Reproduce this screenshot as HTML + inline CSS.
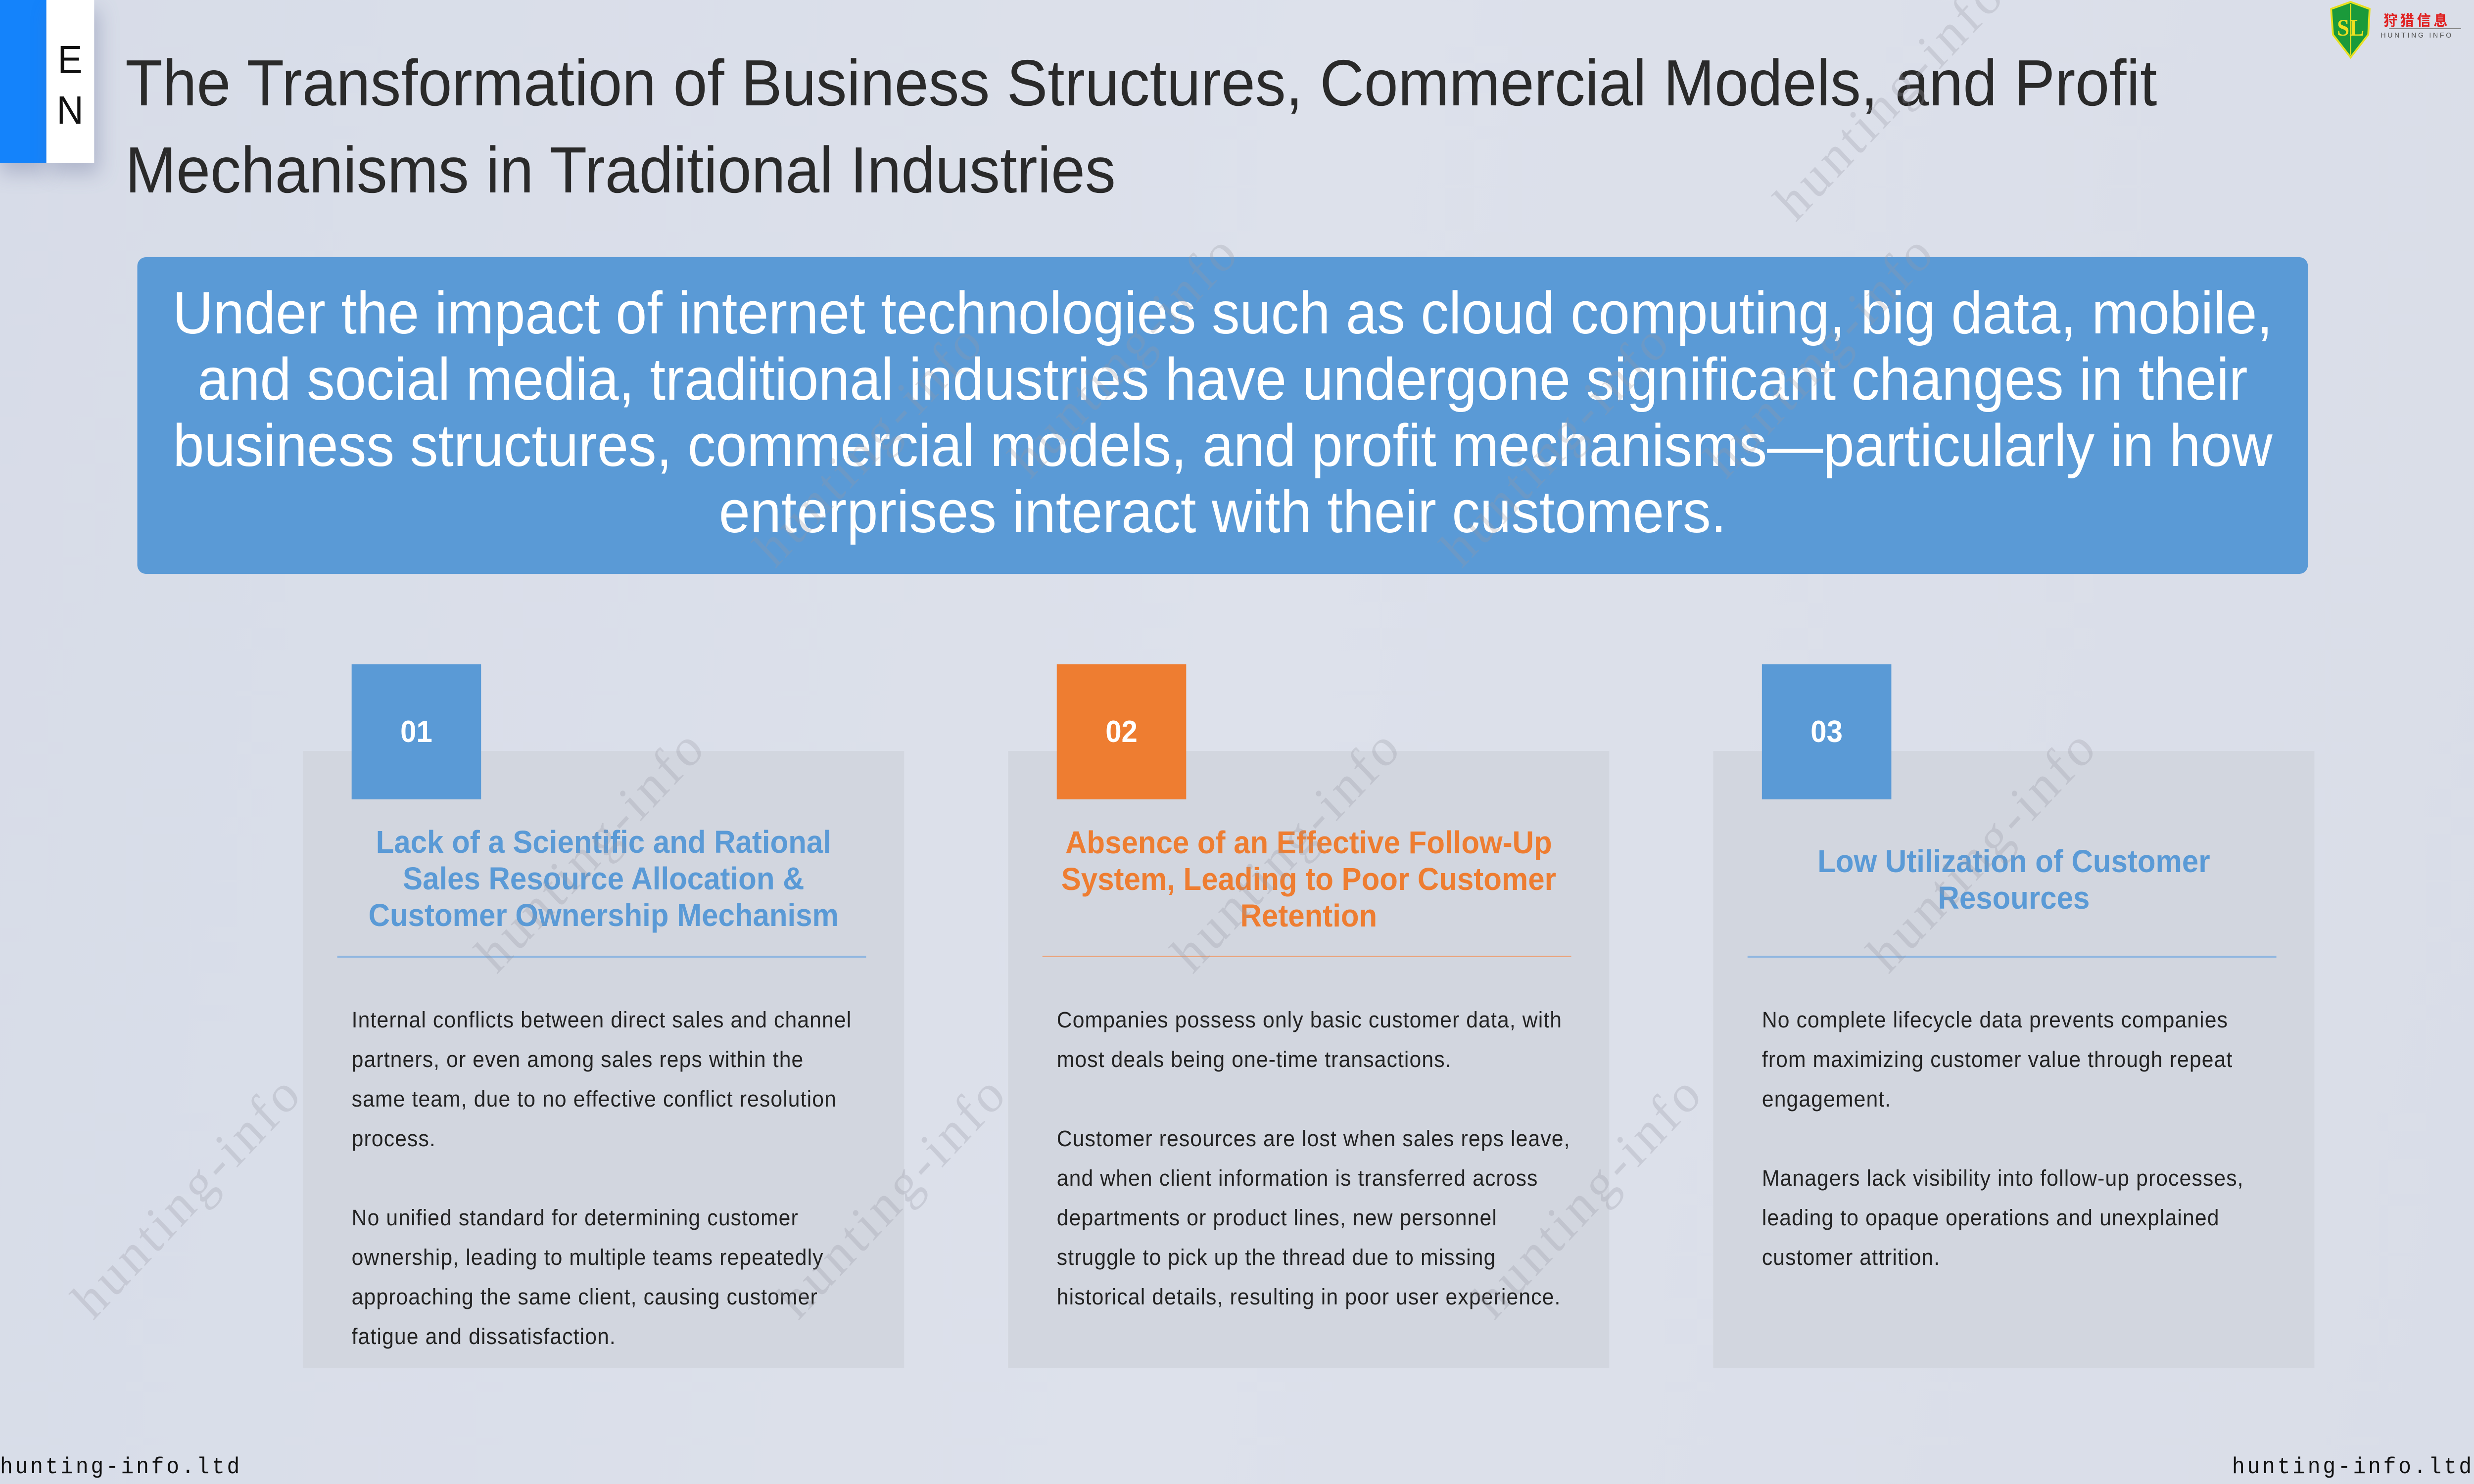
<!DOCTYPE html>
<html><head><meta charset="utf-8"><style>
html,body{margin:0;padding:0;width:100%;height:100%;overflow:hidden;background:#dadfe9}
#root{width:5333px;height:3000px;position:absolute;left:0;top:0;overflow:hidden;transform-origin:0 0;background:linear-gradient(100deg,#d7dce8 0%,#dde1eb 50%,#d9dde8 100%);font-family:"Liberation Sans","Noto Sans CJK SC",sans-serif}
.abs{position:absolute}
.wm{position:absolute;font-family:"Liberation Serif",serif;font-size:110px;color:rgba(150,150,160,0.28);transform:rotate(-45deg);transform-origin:left top;white-space:nowrap;letter-spacing:8px}
.card{position:absolute;top:1518px;width:1296px;height:1247px;background:#d2d6df}
.badge{position:absolute;top:1343px;width:279px;height:273px;color:#fff;font-weight:bold;font-size:62px;display:flex;align-items:center;justify-content:center}
.ct{position:absolute;width:1296px;text-align:center;font-weight:bold;font-size:64px;line-height:74px;white-space:nowrap}
.div{position:absolute;top:1932px;height:4px;width:1140px}
.body{position:absolute;top:2022px;font-size:45.5px;line-height:80px;color:#222;white-space:nowrap;letter-spacing:1.2px}
.foot{position:absolute;top:2940px;font-size:46px;letter-spacing:5px;color:#111;font-family:"Liberation Mono",monospace}
</style></head><body><div id="root">
<div class="abs" style="left:0;top:0;width:100px;height:330px;background:#1483fb;box-shadow:0 20px 40px rgba(100,110,150,.35)"></div>
<div class="abs" style="left:100px;top:0;width:103px;height:330px;background:#fff;box-shadow:10px 20px 40px rgba(100,110,150,.35)"></div>
<div class="abs" style="left:118px;top:70px;font-size:80px;line-height:102px;color:#111;text-align:center;width:66px">E<br>N</div>
<div class="abs" style="left:270px;top:80px;font-size:132px;line-height:176px;color:#2a2a2a;white-space:nowrap">The Transformation of Business Structures, Commercial Models, and Profit<br>Mechanisms in Traditional Industries</div>
<svg class="abs" style="left:5010px;top:0" width="300" height="125" viewBox="0 0 300 125">
<path d="M15 18 L57 4 L98 18 L95 70 L57 116 L19 70 Z" fill="#1a9a3a" stroke="#e8e020" stroke-width="4"/>
<line x1="57" y1="8" x2="57" y2="112" stroke="#e8e020" stroke-width="3"/>
<text x="57" y="72" text-anchor="middle" font-family="Liberation Serif,serif" font-weight="bold" font-size="48" fill="#f0e020">SL</text>
<text x="200" y="52" text-anchor="middle" font-family="Noto Sans CJK SC,sans-serif" font-weight="bold" font-size="30" fill="#e02020" letter-spacing="6">狩猎信息</text>
<line x1="140" y1="58" x2="295" y2="58" stroke="#888" stroke-width="2"/>
<text x="200" y="76" text-anchor="middle" font-family="Liberation Sans,sans-serif" font-size="15" fill="#555" letter-spacing="4">HUNTING INFO</text>
</svg>
<div class="abs" style="left:296px;top:520px;width:4679px;height:640px;background:#5a9ad6;border-radius:18px"></div>
<div class="abs" style="left:296px;top:565px;width:4679px;text-align:center;color:#fff;font-size:121px;line-height:134px;white-space:nowrap">Under the impact of internet technologies such as cloud computing, big data, mobile,<br>and social media, traditional industries have undergone significant changes in their<br>business structures, commercial models, and profit mechanisms—particularly in how<br>enterprises interact with their customers.</div>

<div class="card" style="left:653px"></div>
<div class="card" style="left:2173px"></div>
<div class="card" style="left:3693px"></div>
<div class="badge" style="left:758px;background:#5a9ad6">01</div>
<div class="badge" style="left:2278px;background:#ee7d31">02</div>
<div class="badge" style="left:3798px;background:#5a9ad6">03</div>

<div class="ct" style="left:653px;top:1665px;color:#5a9ad6">Lack of a Scientific and Rational<br>Sales Resource Allocation &amp;<br>Customer Ownership Mechanism</div>
<div class="ct" style="left:2173px;top:1666px;color:#ee7d31">Absence of an Effective Follow-Up<br>System, Leading to Poor Customer<br>Retention</div>
<div class="ct" style="left:3693px;top:1704px;color:#5a9ad6">Low Utilization of Customer<br>Resources</div>
<div class="div" style="left:727px;background:#8fb6e0"></div>
<div class="div" style="left:2247px;background:#eba27a;height:3px"></div>
<div class="div" style="left:3767px;background:#8fb6e0"></div>

<div class="body" style="left:758px">Internal conflicts between direct sales and channel<br>partners, or even among sales reps within the<br>same team, due to no effective conflict resolution<br>process.<br><br>No unified standard for determining customer<br>ownership, leading to multiple teams repeatedly<br>approaching the same client, causing customer<br>fatigue and dissatisfaction.</div>
<div class="body" style="left:2278px">Companies possess only basic customer data, with<br>most deals being one-time transactions.<br><br>Customer resources are lost when sales reps leave,<br>and when client information is transferred across<br>departments or product lines, new personnel<br>struggle to pick up the thread due to missing<br>historical details, resulting in poor user experience.</div>
<div class="body" style="left:3798px">No complete lifecycle data prevents companies<br>from maximizing customer value through repeat<br>engagement.<br><br>Managers lack visibility into follow-up processes,<br>leading to opaque operations and unexplained<br>customer attrition.</div>

<div class="wm" style="left:2150px;top:900px">hunting-info</div>
<div class="wm" style="left:3650px;top:900px">hunting-info</div>
<div class="wm" style="left:3800px;top:380px">hunting-info</div>
<div class="wm" style="left:1600px;top:1080px">hunting-info</div>
<div class="wm" style="left:3080px;top:1080px">hunting-info</div>
<div class="wm" style="left:1000px;top:1900px">hunting-info</div>
<div class="wm" style="left:2500px;top:1900px">hunting-info</div>
<div class="wm" style="left:4000px;top:1900px">hunting-info</div>
<div class="wm" style="left:130px;top:2600px">hunting-info</div>
<div class="wm" style="left:1650px;top:2600px">hunting-info</div>
<div class="wm" style="left:3150px;top:2600px">hunting-info</div>

<div class="foot" style="left:0">hunting-info.ltd</div>
<div class="foot" style="right:0">hunting-info.ltd</div>
</div>
<script>
(function(){var r=document.getElementById('root');function f(){var sx=window.innerWidth/5333,sy=window.innerHeight/3000;if(Math.abs(sx-1)<0.002&&Math.abs(sy-1)<0.002){r.style.transform='none';}else{r.style.transform='scale('+sx+','+sy+')';}}f();window.addEventListener('resize',f);})();
</script>
</body></html>
